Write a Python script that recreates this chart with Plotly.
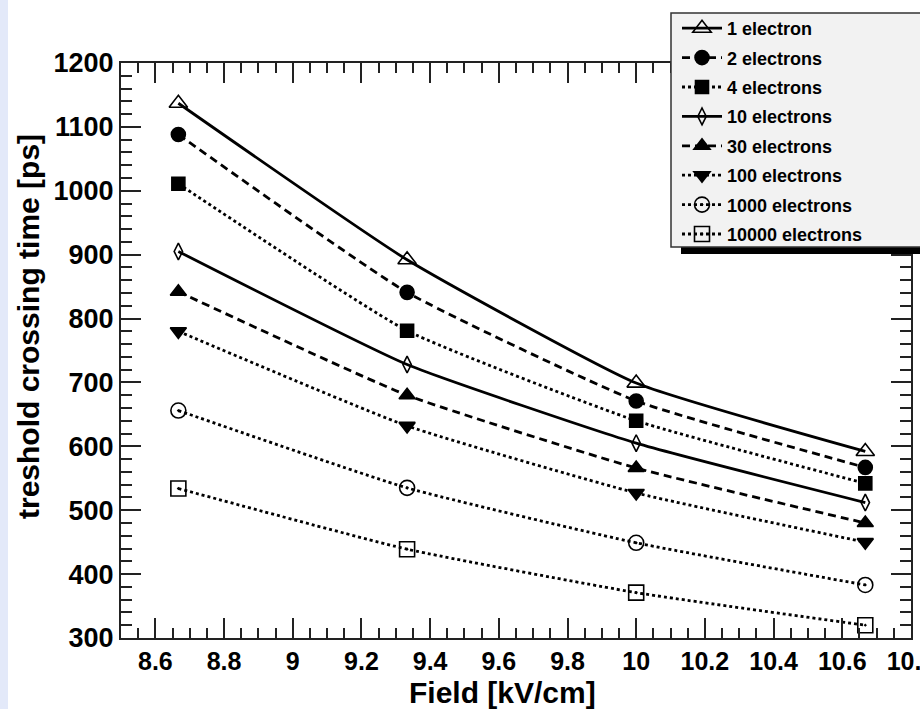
import plotly.graph_objects as go

field = [8.667, 9.333, 10.0, 10.667]
names = ["1 electron", "2 electrons", "4 electrons", "10 electrons",
         "30 electrons", "100 electrons", "1000 electrons", "10000 electrons"]
t_1 = [1137, 892, 699, 592]
t_2 = [1088, 841, 671, 567]
t_4 = [1011, 781, 640, 542]
t_10 = [905, 728, 605, 512]
t_30 = [842, 680, 566, 480]
t_100 = [780, 632, 527, 450]
t_1000 = [656, 535, 449, 383]
t_10000 = [534, 439, 371, 320]
series = [t_1, t_2, t_4, t_10, t_30, t_100, t_1000, t_10000]

dashes = ["solid", "8px,5px", "3px,3px", "solid", "8px,5px", "3px,3px", "3px,3px", "3px,3px"]
symbols = ["triangle-up-open", "circle", "square", "diamond-tall-open",
           "triangle-up", "triangle-down", "circle-open-dot", "square-open-dot"]
sizes = [16, 14, 13, 12, 14, 14, 15, 15]

FONT = "Liberation Sans, Arial, Helvetica, sans-serif"

fig = go.Figure()
for n, ys, d, s, sz in zip(names, series, dashes, symbols, sizes):
    fig.add_trace(go.Scatter(
        x=field, y=ys, name=n, legendgroup=n, mode="lines+markers",
        line=dict(color="black", width=2.8, dash=d, shape="spline", smoothing=0.45),
        marker=dict(symbol=s, size=sz, color="black",
                    line=dict(color="black", width=1.6)),
    ))

W, H = 920, 709
L, R, T, B = 121, 9, 63, 71
pw, ph = W - L - R, H - T - B

def px_x(p):
    return (p - L) / pw

def px_y(p):
    return (H - B - p) / ph

axis_common = dict(
    showgrid=False, zeroline=False, showline=True, linecolor="#222",
    linewidth=2, mirror="ticks", ticks="inside", tickcolor="#222",
    tickwidth=2, ticklen=20, ticklabeloverflow="allow", automargin=False,
)

fig.update_xaxes(range=[8.5, 10.8001], dtick=0.2, tick0=8.6,
                 minor=dict(dtick=0.05, ticks="inside", ticklen=10, tickwidth=2, tickcolor="#222"),
                 tickfont=dict(family=FONT, size=25, color="black", weight="bold"),
                 **axis_common)
fig.update_yaxes(range=[300, 1200], dtick=100,
                 minor=dict(dtick=20, ticks="inside", ticklen=11, tickwidth=2, tickcolor="#222"),
                 tickfont=dict(family=FONT, size=27, color="black", weight="bold"),
                 **axis_common)

fig.update_layout(
    width=W, height=H,
    margin=dict(l=L, r=R, t=T, b=B, pad=0, autoexpand=False),
    paper_bgcolor="white", plot_bgcolor="white",
    showlegend=True,
    legend=dict(
        x=px_x(677), y=px_y(10), xanchor="left", yanchor="top",
        bgcolor="rgba(0,0,0,0)", borderwidth=0,
        font=dict(family=FONT, size=18, color="black", weight="bold"),
        tracegroupgap=3, itemwidth=40,
    ),
    shapes=[
        dict(type="rect", xref="paper", yref="paper",
             x0=px_x(0), x1=px_x(8), y0=px_y(H), y1=px_y(0),
             fillcolor="#e3e9f9", line=dict(width=0), layer="below"),
        dict(type="rect", xref="paper", yref="paper",
             x0=px_x(681), x1=px_x(935), y0=px_y(254), y1=px_y(20),
             fillcolor="black", line=dict(width=0), layer="above"),
        dict(type="rect", xref="paper", yref="paper",
             x0=px_x(671), x1=px_x(930), y0=px_y(247), y1=px_y(13),
             fillcolor="#f2f2f2", line=dict(width=1.5, color="#333"), layer="above"),
    ],
    annotations=[
        dict(text="treshold crossing time [ps]", xref="paper", yref="paper",
             x=px_x(28), y=px_y(327), textangle=-90, showarrow=False,
             xanchor="center", yanchor="middle",
             font=dict(family=FONT, size=30, color="black", weight="bold")),
        dict(text="Field [kV/cm]", xref="paper", yref="paper",
             x=px_x(502), y=px_y(693), showarrow=False,
             xanchor="center", yanchor="middle",
             font=dict(family=FONT, size=30, color="black", weight="bold")),
    ],
)

fig.write_html("out.html", config={"displayModeBar": False},
               post_script="document.body.style.margin='0px';document.body.style.padding='0px';")
